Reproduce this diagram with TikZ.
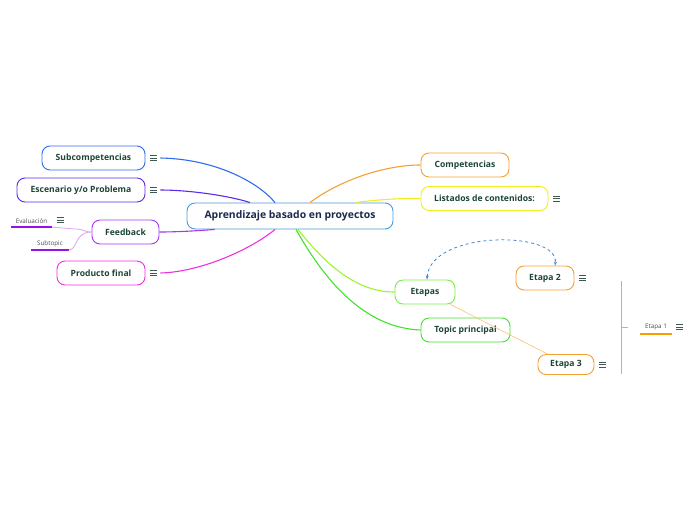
\documentclass[tikz,border=0pt]{standalone}
\usepackage{fontspec}
\setmainfont{Open Sans}
\usetikzlibrary{positioning,arrows.meta}

\definecolor{txtgreen}{HTML}{1D4536}
\definecolor{mainnavy}{HTML}{1B2A4E}
\definecolor{mainblue}{HTML}{4C9AD6}
\definecolor{subblue}{HTML}{2F6BF0}
\definecolor{escviolet}{HTML}{5A2BE8}
\definecolor{feedpurple}{HTML}{A638F0}
\definecolor{leafpurple}{HTML}{9A10E8}
\definecolor{prodpink}{HTML}{F030E0}
\definecolor{comporange}{HTML}{F5A033}
\definecolor{leaforange}{HTML}{F5A000}
\definecolor{listyellow}{HTML}{EEEE22}
\definecolor{etgreen}{HTML}{77EE44}
\definecolor{topgreen}{HTML}{44E030}
\definecolor{dashblue}{HTML}{3A86D8}
\definecolor{lightorange}{HTML}{F8C880}
\definecolor{salmon}{HTML}{E8A088}
\definecolor{icongray}{HTML}{3E5A50}

\tikzset{
  topic/.style={draw, rounded corners=8pt, line width=0.9pt, minimum height=24pt, fill=white,
    text=txtgreen, font=\bfseries\fontsize{8.6}{10}\selectfont},
  leaf/.style={inner xsep=1pt, inner ysep=3pt, text=black!70, font=\fontsize{6.3}{7}\selectfont},
  branch/.style={line width=1.1pt},
  notes/.pic={\foreach \d in {-2.5,0,2.5} \draw[line width=0.6pt, icongray] (-3.5,\d) -- (3.5,\d);}
}

\begin{document}
\begin{tikzpicture}[x=1pt, y=-1pt]
\useasboundingbox (0,0) rectangle (696,520);

% central topic
\node[topic, draw=mainblue, minimum width=206pt, minimum height=26pt, text=mainnavy,
  font=\bfseries\fontsize{10.4}{12}\selectfont] (main) at (290,216) {Aprendizaje basado en proyectos};

% left side
\node[topic, draw=subblue, minimum width=103pt] (sub) at (93.5,158) {Subcompetencias};
\node[topic, draw=escviolet, minimum width=128pt] (esc) at (81,190) {Escenario y/o Problema};
\node[topic, draw=feedpurple, minimum width=67pt] (feed) at (125.5,232) {Feedback};
\node[topic, draw=prodpink, minimum width=88pt] (prod) at (101,273) {Producto final};

% right side
\node[topic, draw=comporange, minimum width=88pt] (comp) at (465,165) {Competencias};
\node[topic, draw=listyellow, minimum width=127pt] (list) at (484.5,198.5) {Listados de contenidos:};
\node[topic, draw=etgreen, minimum width=60pt] (etapas) at (425,292) {Etapas};
\node[topic, draw=topgreen, minimum width=89pt] (topic) at (465.5,330) {Topic principal};
\node[topic, draw=comporange, minimum width=58pt] (e2) at (545,278) {Etapa 2};
\node[topic, draw=comporange, minimum width=56pt, minimum height=20pt] (e3) at (566,364.5) {Etapa 3};

% small subtopics
\node[leaf, minimum width=41pt] (eval) at (31.5,221.5) {Evaluación};
\node[leaf, minimum width=37pt] (subt) at (50,243.5) {Subtopic};
\node[leaf, minimum width=32pt] (e1) at (656,327.5) {Etapa 1};
\draw[leafpurple, line width=1.7pt] (eval.south west) -- (eval.south east);
\draw[leafpurple, line width=1.7pt] (subt.south west) -- (subt.south east);
\draw[leaforange, line width=1.7pt] (e1.south west) -- (e1.south east);

% note icons
\foreach \n in {sub,esc,prod,list,e2,e3}
  \pic at ([xshift=8pt]\n.east) {notes};
\pic at (60,220) {notes};
\pic at (679,327) {notes};

% branches
\draw[branch, subblue] ([xshift=-15pt]main.north) .. controls (258,182) and (215,159) .. ([xshift=15pt]sub.east);
\draw[branch, escviolet] ([xshift=-40pt]main.north) .. controls (230,196) and (190,190) .. ([xshift=15pt]esc.east);
\draw[branch, feedpurple] ([xshift=28pt]main.south west) .. controls (195,231) and (175,232) .. (feed.east);
\draw[branch, prodpink] ([xshift=-15pt]main.south) .. controls (250,250) and (200,272) .. ([xshift=15pt]prod.east);
\draw[branch, comporange] ([xshift=20pt]main.north) .. controls (340,180) and (385,165) .. (comp.west);
\draw[branch, listyellow] ([xshift=65pt]main.north) .. controls (375,200) and (400,198) .. (list.west);
\draw[branch, etgreen!70!yellow] ([xshift=8pt]main.south) .. controls (330,270) and (360,292) .. (etapas.west);
\draw[branch, topgreen] ([xshift=6pt]main.south) .. controls (330,290) and (370,328) .. (topic.west);

% feedback subtopics
\draw[feedpurple!45, line width=0.8pt] (eval.south east) -- (75,229) .. controls (84,229) and (84,232) .. (feed.west);
\draw[feedpurple!45, line width=0.8pt] (subt.south east) .. controls (78,250) and (74,232) .. (feed.west);

% relationship and links
\draw[dashblue, line width=0.8pt, dashed, {Stealth[length=4pt]}-{Stealth[length=4pt]}]
  ([xshift=2pt]etapas.north) .. controls (430,230) and (560,230) .. ([xshift=10pt]e2.north);
\draw[lightorange, line width=0.7pt] ([xshift=-5pt]etapas.south east) -- ([xshift=10pt]e3.north west);

% summary bracket
\coordinate (brtop) at (621,281);
\coordinate (brbot) at (621,374);
\draw[salmon, line width=0.8pt] (brtop) -- (brbot);
\draw[salmon, line width=0.8pt] (621,327) -- (628,327);
\end{tikzpicture}
\end{document}
